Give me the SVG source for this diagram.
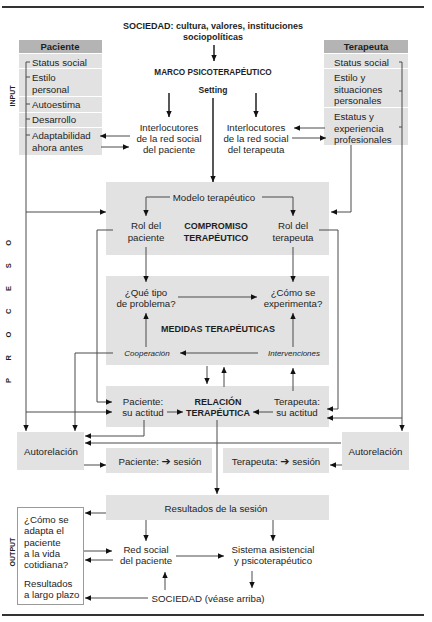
<svg xmlns="http://www.w3.org/2000/svg" width="432" height="622" viewBox="0 0 432 622">
<style>
text{font-family:"Liberation Sans",Arial,sans-serif;fill:#1e1e1e;}
.t{font-size:9.7px;}
.c{text-anchor:middle;}
.b{font-weight:bold;}
.i{font-style:italic;font-size:8px;}
.side{font-size:7px;font-weight:bold;}
.box{fill:#e2e2e2;}
.hdr{fill:#b4b4b4;}
.row{fill:#e2e2e2;}
.arw{font-family:"DejaVu Sans",sans-serif;font-weight:bold;font-size:11px;}
.ln{fill:none;stroke:#4a4a4a;stroke-width:1;}
.la{fill:none;stroke:#4a4a4a;stroke-width:1;marker-end:url(#ah);}
.lk{fill:none;stroke:#111;stroke-width:1.4;marker-end:url(#ah);}
.rule{stroke:#333;stroke-width:2;}
</style>
<defs>
<marker id="ah" viewBox="0 0 6 6" refX="6" refY="3" markerWidth="6" markerHeight="6" orient="auto" markerUnits="userSpaceOnUse"><path d="M0,0.3 L6,3 L0,5.7 z" fill="#111"/></marker>
</defs>
<rect width="432" height="622" fill="#fff"/>
<line class="rule" x1="2" y1="7" x2="424" y2="7"/>
<line class="rule" x1="2" y1="615" x2="424" y2="615"/>

<g id="side-labels">
<text class="side c" transform="translate(14.5,96) rotate(-90)">INPUT</text>
<text class="side" style="font-size:7.5px;letter-spacing:17.6px" transform="translate(10.5,383) rotate(-90)">PROCESO</text>
<text class="side c" transform="translate(14.5,552) rotate(-90)">OUTPUT</text>
</g>

<g id="sociedad-top">
<text class="b c" style="font-size:9px" x="213" y="29">SOCIEDAD: cultura, valores, instituciones</text>
<text class="b c" style="font-size:9px" x="213" y="40">sociopolíticas</text>
</g>
<g id="marco">
<text class="b c" style="font-size:8.2px" x="213" y="75">MARCO PSICOTERAPÉUTICO</text>
<text class="b c" style="font-size:8.5px" x="213" y="93">Setting</text>
</g>

<g id="paciente-table">
<rect class="hdr" x="19" y="40" width="83" height="13"/>
<text class="b c" style="font-size:9.5px" x="60" y="50">Paciente</text>
<rect class="row" x="19" y="54" width="83" height="14"/>
<rect class="row" x="19" y="69" width="83" height="27"/>
<rect class="row" x="19" y="97" width="83" height="15"/>
<rect class="row" x="19" y="113" width="83" height="14"/>
<rect class="row" x="19" y="128" width="83" height="27"/>
<text class="t" x="32" y="65.5">Status social</text>
<text class="t" x="32" y="81">Estilo</text>
<text class="t" x="32" y="92.5">personal</text>
<text class="t" x="32" y="108">Autoestima</text>
<text class="t" x="32" y="123">Desarrollo</text>
<text class="t" x="32" y="139">Adaptabilidad</text>
<text class="t" x="32" y="150.5">ahora antes</text>
</g>

<g id="terapeuta-table">
<rect class="hdr" x="324" y="40" width="84" height="13"/>
<text class="b c" style="font-size:9.5px" x="366" y="50">Terapeuta</text>
<rect class="row" x="324" y="54" width="84" height="14"/>
<rect class="row" x="324" y="69" width="84" height="38"/>
<rect class="row" x="324" y="108" width="84" height="37"/>
<text class="t" x="334" y="65.5">Status social</text>
<text class="t" x="334" y="81">Estilo y</text>
<text class="t" x="334" y="92.5">situaciones</text>
<text class="t" x="334" y="104">personales</text>
<text class="t" x="334" y="120">Estatus y</text>
<text class="t" x="334" y="131.5">experiencia</text>
<text class="t" x="334" y="143">profesionales</text>
</g>

<g id="interlocutores-paciente">
<text class="t c" x="169" y="130.5">Interlocutores</text>
<text class="t c" x="169" y="141.5">de la red social</text>
<text class="t c" x="169" y="152.5">del paciente</text>
</g>
<g id="interlocutores-terapeuta">
<text class="t c" x="256" y="130.5">Interlocutores</text>
<text class="t c" x="256" y="141.5">de la red social</text>
<text class="t c" x="256" y="152.5">del terapeuta</text>
</g>

<g id="compromiso">
<rect class="box" x="106" y="182" width="223" height="73"/>
<text class="t c" x="214" y="200.5">Modelo terapéutico</text>
<text class="t c" x="146" y="228.5">Rol del</text>
<text class="t c" x="146" y="240.5">paciente</text>
<text class="b c" style="font-size:9px" x="216" y="228.5">COMPROMISO</text>
<text class="b c" style="font-size:9px" x="216" y="240.5">TERAPÉUTICO</text>
<text class="t c" x="293" y="228.5">Rol del</text>
<text class="t c" x="293" y="240.5">terapeuta</text>
</g>

<g id="medidas">
<rect class="box" x="106" y="276" width="223" height="89"/>
<text class="t c" x="146" y="295.5">¿Qué tipo</text>
<text class="t c" x="146" y="307">de problema?</text>
<text class="t c" x="293" y="295.5">¿Cómo se</text>
<text class="t c" x="293" y="307">experimenta?</text>
<text class="b c" style="font-size:9px" x="218" y="332">MEDIDAS TERAPÉUTICAS</text>
<text class="i c" x="147" y="356">Cooperación</text>
<text class="i c" x="294" y="356">Intervenciones</text>
</g>

<g id="relacion">
<rect class="box" x="106" y="386" width="223" height="41"/>
<text class="t c" x="143" y="404.5">Paciente:</text>
<text class="t c" x="143" y="416">su actitud</text>
<text class="b c" style="font-size:9px" x="218" y="404.5">RELACIÓN</text>
<text class="b c" style="font-size:9px" x="218" y="416">TERAPÉUTICA</text>
<text class="t c" x="297" y="404.5">Terapeuta:</text>
<text class="t c" x="297" y="416">su actitud</text>
</g>

<g id="autorelacion-paciente">
<rect class="box" x="17" y="432" width="67" height="38"/>
<text class="t c" x="51" y="455">Autorelación</text>
</g>
<g id="autorelacion-terapeuta">
<rect class="box" x="342" y="432" width="67" height="38"/>
<text class="t c" x="375.5" y="455">Autorelación</text>
</g>
<g id="paciente-sesion">
<rect class="box" x="106" y="448" width="106" height="25"/>
<text class="t c" x="160" y="464.5">Paciente: <tspan class="arw">➔</tspan> sesión</text>
</g>
<g id="terapeuta-sesion">
<rect class="box" x="223" y="448" width="106" height="25"/>
<text class="t c" x="276" y="464.5">Terapeuta: <tspan class="arw">➔</tspan> sesión</text>
</g>

<g id="resultados">
<rect class="box" x="106" y="495" width="223" height="25"/>
<text class="t c" x="216" y="511.5">Resultados de la sesión</text>
</g>

<g id="output-box">
<rect x="17.5" y="507.5" width="66" height="97" fill="#fff" stroke="#9a9a9a" stroke-width="1"/>
<text class="t" x="24" y="522.5">¿Cómo se</text>
<text class="t" x="24" y="534">adapta el</text>
<text class="t" x="24" y="545.5">paciente</text>
<text class="t" x="24" y="557">a la vida</text>
<text class="t" x="24" y="568">cotidiana?</text>
<text class="t" x="24" y="586.5">Resultados</text>
<text class="t" x="24" y="598">a largo plazo</text>
</g>

<g id="red-social">
<text class="t c" x="146" y="552.5">Red social</text>
<text class="t c" x="146" y="564">del paciente</text>
</g>
<g id="sistema">
<text class="t c" x="273" y="552.5">Sistema asistencial</text>
<text class="t c" x="273" y="564">y psicoterapéutico</text>
</g>
<g id="sociedad-bottom">
<text class="t c" x="208" y="601.5">SOCIEDAD (véase arriba)</text>
</g>

<g id="connectors">
<line class="lk" x1="214" y1="45" x2="214" y2="61"/>
<line class="lk" x1="169" y1="93" x2="169" y2="117"/>
<line class="lk" x1="256" y1="93" x2="256" y2="117"/>
<line class="lk" x1="213" y1="98" x2="213" y2="182"/>

<line class="la" x1="130" y1="136" x2="100" y2="136"/>
<line class="la" x1="101" y1="147" x2="129" y2="147"/>
<line class="la" x1="325" y1="128" x2="294" y2="128"/>
<line class="la" x1="292" y1="138" x2="326" y2="138"/>

<path class="ln" d="M30,62H26M30,77H26M30,104H26M30,119H26M30,135H26"/>
<path class="la" d="M26,62V431"/>
<line class="la" x1="26" y1="212" x2="106" y2="212"/>
<line class="la" x1="26" y1="412" x2="112" y2="412"/>

<path class="ln" d="M399,62H402M399,91H402M399,127H402"/>
<path class="la" d="M402,62V431"/>
<line class="la" x1="402" y1="418" x2="327" y2="418"/>
<path class="la" d="M351,145V212H331"/>

<path class="la" d="M170,197H146V216"/>
<path class="la" d="M262,197H293V216"/>
<line class="la" x1="146" y1="247" x2="146" y2="282"/>
<line class="la" x1="293" y1="247" x2="293" y2="282"/>
<path class="la" d="M113,230H97V402H112"/>
<path class="la" d="M319,230H338V409H327"/>

<line class="la" x1="178" y1="297" x2="257" y2="297"/>
<line class="la" x1="258" y1="353" x2="180" y2="353"/>
<line class="la" x1="146" y1="347" x2="146" y2="313"/>
<line class="la" x1="293" y1="347" x2="293" y2="313"/>
<path class="la" d="M113,353H75V431"/>
<line class="la" x1="207" y1="366" x2="207" y2="384"/>
<line class="la" x1="224" y1="387" x2="224" y2="367"/>
<line class="la" x1="293" y1="391" x2="293" y2="368"/>

<line class="la" x1="167" y1="412" x2="183" y2="412"/>
<line class="la" x1="273" y1="412" x2="253" y2="412"/>
<path class="la" d="M144,420V436H85"/>
<line class="la" x1="217" y1="420" x2="217" y2="494"/>
<line class="la" x1="341" y1="443" x2="85" y2="443"/>
<line class="la" x1="84" y1="465" x2="106" y2="465"/>
<line class="la" x1="342" y1="465" x2="330" y2="465"/>

<line class="la" x1="106" y1="513" x2="85" y2="513"/>
<line class="la" x1="146" y1="520" x2="146" y2="541"/>
<line class="la" x1="273" y1="520" x2="273" y2="541"/>
<line class="la" x1="84" y1="551" x2="112" y2="551"/>
<line class="la" x1="113" y1="560" x2="85" y2="560"/>
<line class="la" x1="176" y1="556" x2="224" y2="556"/>
<line class="la" x1="252" y1="571" x2="252" y2="588"/>
<line class="la" x1="165" y1="590" x2="165" y2="572"/>
<line class="la" x1="148" y1="598" x2="85" y2="598"/>
</g>
</svg>
